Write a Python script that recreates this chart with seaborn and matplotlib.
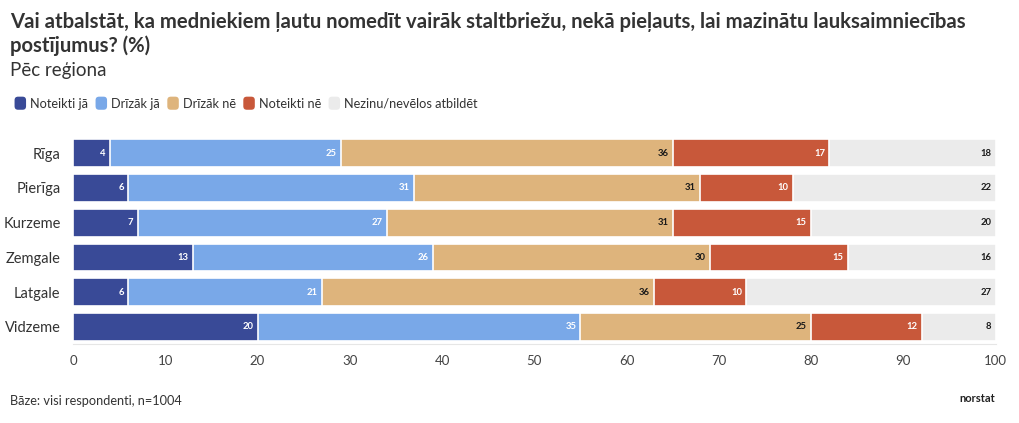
import matplotlib
matplotlib.use("Agg")
import matplotlib.pyplot as plt
from matplotlib.patches import FancyBboxPatch
from matplotlib.legend_handler import HandlerPatch
import pandas as pd
import seaborn as sns

# --- Data ---
regions = ["Rīga", "Pierīga", "Kurzeme", "Zemgale", "Latgale", "Vidzeme"]
categories = ["Noteikti jā", "Drīzāk jā", "Drīzāk nē", "Noteikti nē", "Nezinu/nevēlos atbildēt"]
noteikti_ja = [4, 6, 7, 13, 6, 20]
drizak_ja = [25, 31, 27, 26, 21, 35]
drizak_ne = [36, 31, 31, 30, 36, 25]
noteikti_ne = [17, 10, 15, 15, 10, 12]
nezinu = [18, 22, 20, 16, 27, 8]

# --- Styling ---
COLORS = ["#394a97", "#79a8e8", "#deb47c", "#c8583a", "#ebebeb"]
LABEL_COLORS = ["white", "white", "#1a1a1a", "white", "#1a1a1a"]
TEXT_DARK = "#333333"

sns.set_style("white")
plt.rcParams["font.family"] = ["Lato", "DejaVu Sans"]

df = pd.DataFrame(
    [noteikti_ja, drizak_ja, drizak_ne, noteikti_ne, nezinu],
    index=categories, columns=regions,
).T
cum = df.cumsum(axis=1)

fig = plt.figure(figsize=(10.2, 4.23), dpi=100)
ax = fig.add_axes([0.0716, 0.186, 0.9044, 0.493])

# Stacked bars: draw cumulative totals from the outermost segment inwards
for cat, color in reversed(list(zip(categories, COLORS))):
    sns.barplot(
        x=cum[cat].values, y=regions, orient="h", color=color, saturation=1,
        width=0.8, edgecolor="white", linewidth=1.2, ax=ax,
    )

# Value labels at the right end of each segment
for i, region in enumerate(regions):
    for cat, tc in zip(categories, LABEL_COLORS):
        ax.text(cum.loc[region, cat] - 0.45, i, f"{df.loc[region, cat]}",
                ha="right", va="center", fontsize=6.8, fontweight="bold", color=tc)

ax.set_xlim(0, 100)
ax.set_ylim(5.5, -0.5)
ax.set_xticks(range(0, 101, 10))
ax.set_xlabel("")
ax.set_ylabel("")
for s in ["top", "right", "left"]:
    ax.spines[s].set_visible(False)
ax.spines["bottom"].set_color("#e6e6e6")
ax.tick_params(axis="x", length=5, color="#e6e6e6", labelsize=9.5, labelcolor="#444444", pad=3)
ax.tick_params(axis="y", length=5, color="#e6e6e6", labelsize=10.5, labelcolor=TEXT_DARK, pad=4)

# Titles
fig.text(0.010, 0.948, "Vai atbalstāt, ka medniekiem ļautu nomedīt vairāk staltbriežu, nekā pieļauts, lai mazinātu lauksaimniecības",
         fontsize=14.6, fontweight="bold", color=TEXT_DARK, va="center")
fig.text(0.010, 0.893, "postījumus? (%)", fontsize=14.6, fontweight="bold", color=TEXT_DARK, va="center")
fig.text(0.010, 0.833, "Pēc reģiona", fontsize=13.5, color=TEXT_DARK, va="center")


class RoundedHandler(HandlerPatch):
    def create_artists(self, legend, orig_handle, xdescent, ydescent, width, height, fontsize, trans):
        p = FancyBboxPatch((-xdescent, -ydescent), width, height,
                           boxstyle="round,pad=0,rounding_size=2.5",
                           facecolor=orig_handle.get_facecolor(), edgecolor="none", transform=trans)
        return [p]


# Legend
handles = [FancyBboxPatch((0, 0), 1, 1, facecolor=c, edgecolor="none") for c in COLORS]
fig.legend(handles, categories, loc="center left", bbox_to_anchor=(0.003, 0.756),
           ncol=5, frameon=False, fontsize=9.2, handlelength=0.9, handleheight=1.2,
           handletextpad=0.3, columnspacing=0.6, labelcolor=TEXT_DARK,
           handler_map={FancyBboxPatch: RoundedHandler()})

# Footer
fig.text(0.010, 0.052, "Bāze: visi respondenti, n=1004", fontsize=9.2, color=TEXT_DARK, va="center")
fig.text(0.976, 0.058, "norstat", fontsize=8, fontweight="bold", color="#222222", ha="right", va="center")

fig.savefig("out.png", dpi=100)
